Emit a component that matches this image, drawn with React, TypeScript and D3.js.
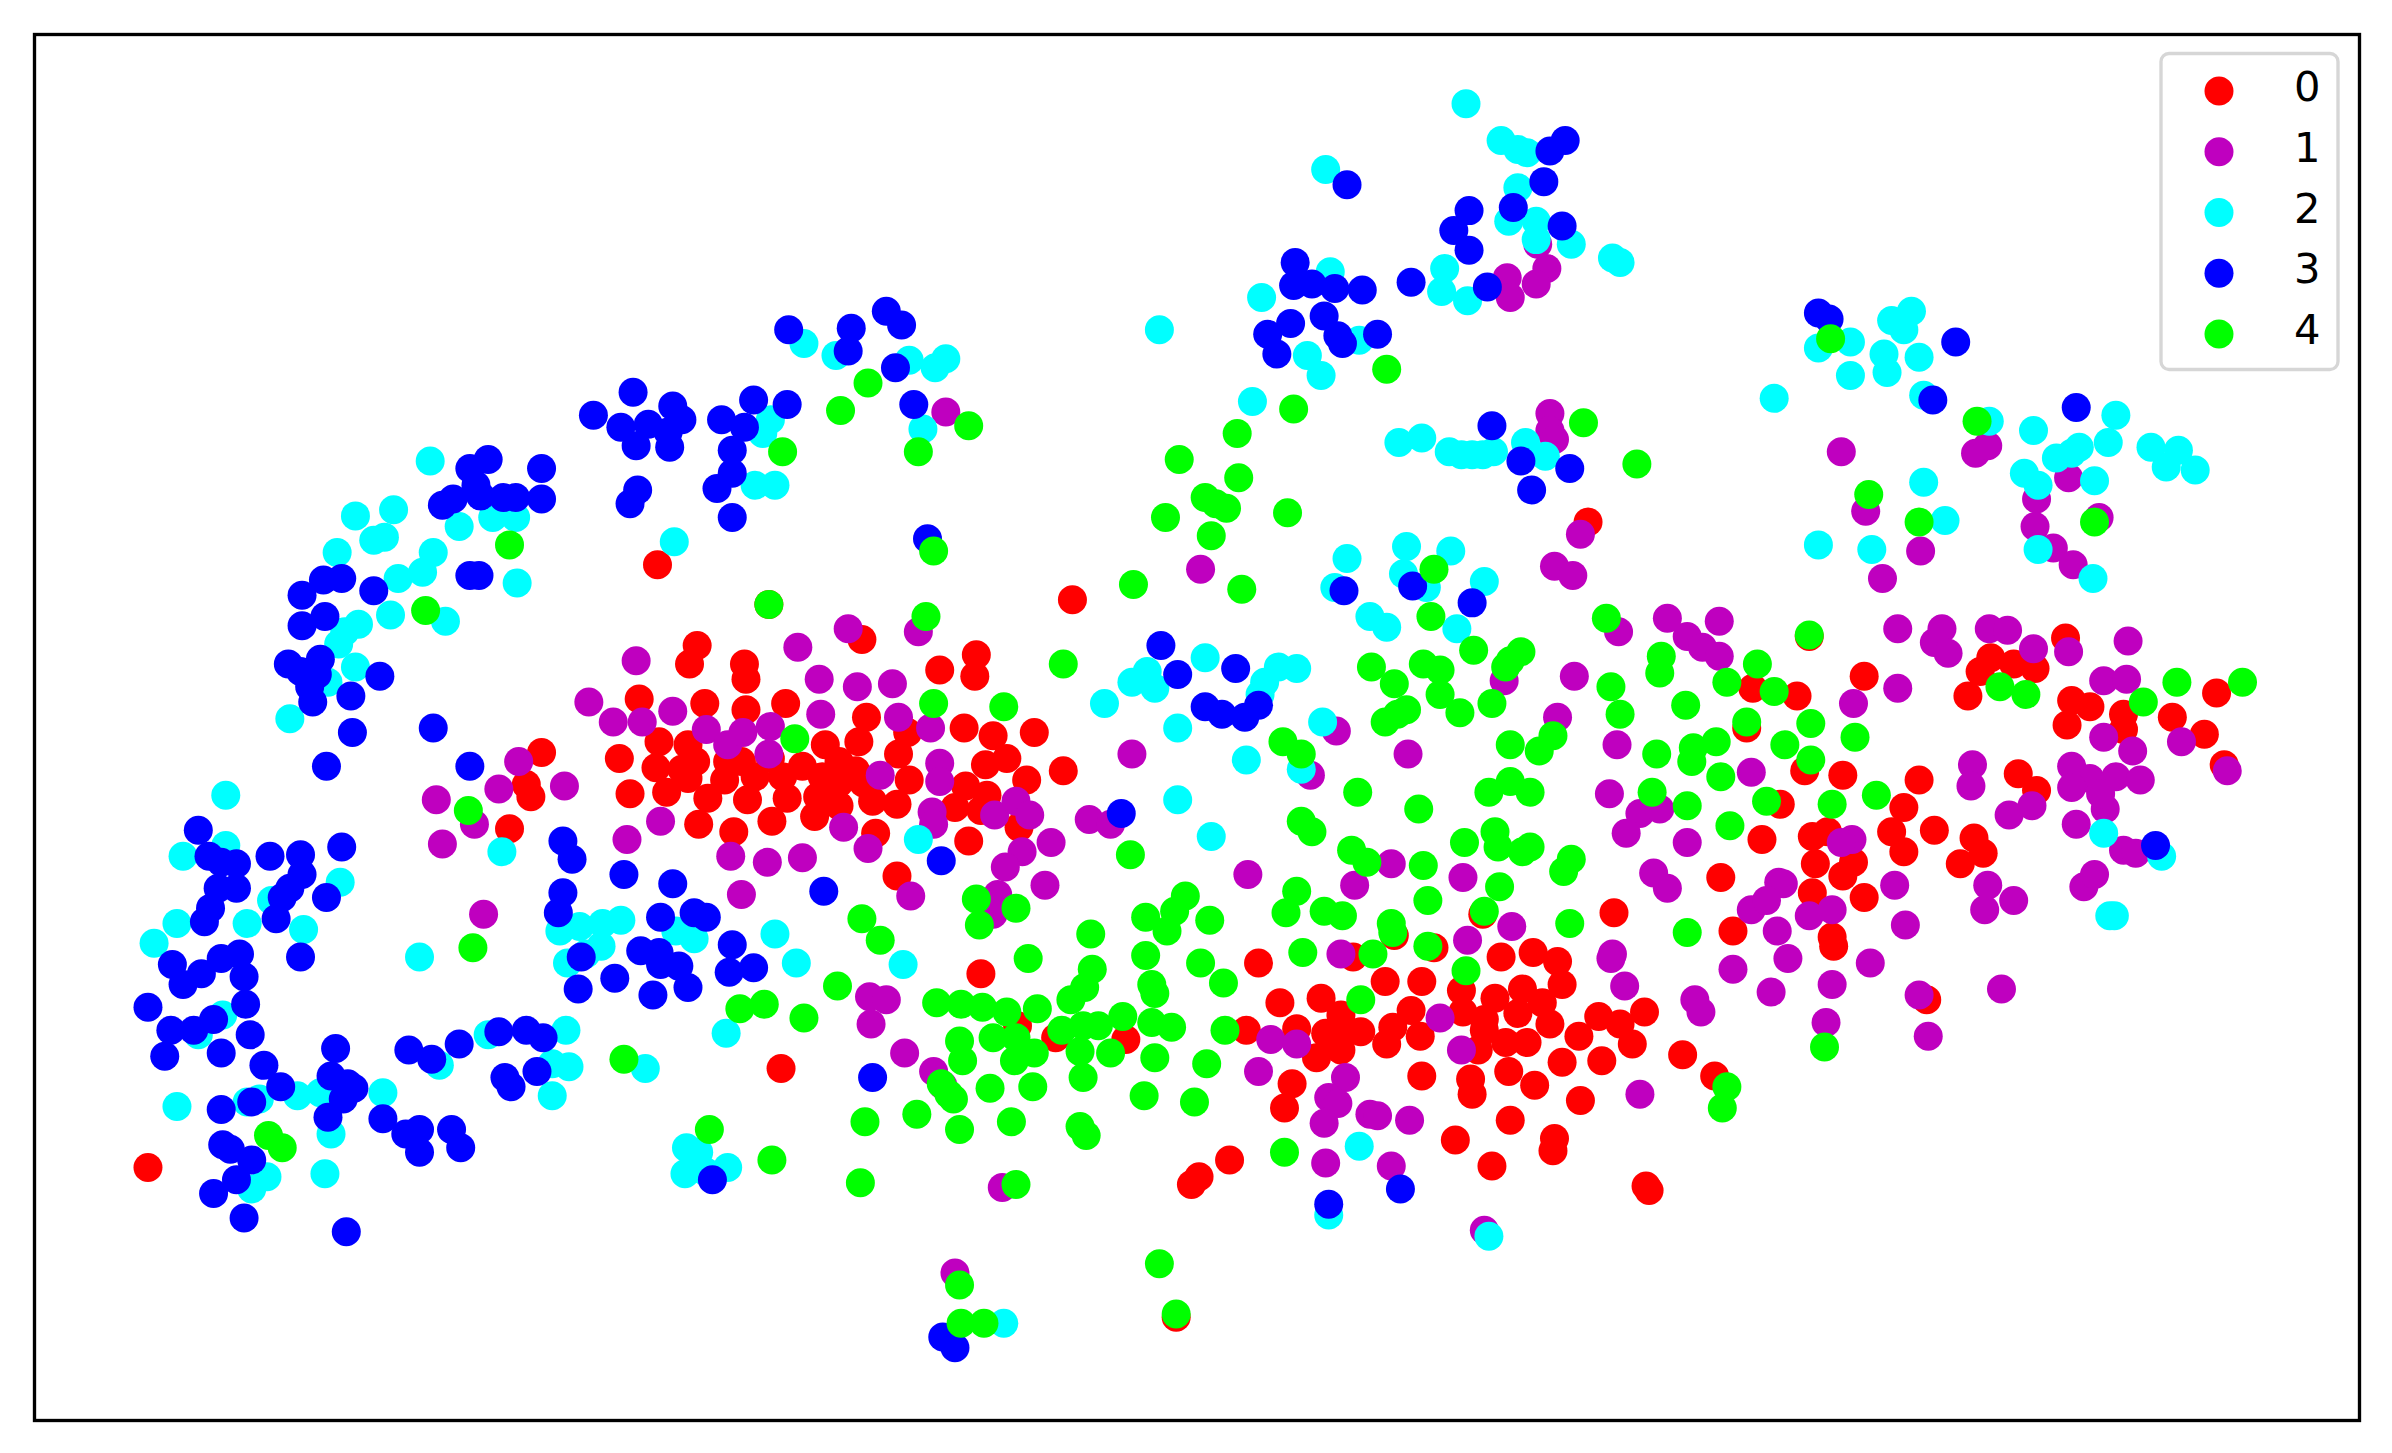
import React from "react";
import * as d3 from "d3";

const labels = ["0", "1", "2", "3", "4"];
const colors = ["#ff0000", "#bf00bf", "#00ffff", "#0000ff", "#00ff00"];

const class0: number[][] = [[504,396],[703,393],[565,419],[457,423],[452,435],[488,435],[489,445],[640,429],[616,439],[639,443],[419,458],[462,461],[489,465],[515,461],[568,470],[632,477],[651,482],[678,480],[432,486],[451,488],[541,488],[563,486],[589,494],[595,480],[406,497],[646,501],[660,497],[697,505],[430,503],[456,499],[447,504],[451,510],[477,499],[486,499],[475,511],[495,509],[505,497],[513,509],[526,502],[539,509],[550,499],[561,505],[550,513],[536,522],[540,520],[550,528],[534,535],[566,513],[572,525],[588,527],[596,511],[633,515],[647,521],[673,511],[626,529],[643,531],[668,542],[635,551],[413,520],[437,519],[464,523],[490,524],[516,523],[458,540],[481,545],[506,538],[574,546],[588,574],
[825,631],[887,627],[914,613],[940,621],[972,599],[1058,598],[1128,575],[1136,610],[984,627],[1005,624],[1021,630],[1024,645],[908,643],[932,643],[958,649],[980,654],[998,648],[1011,657],[839,657],[866,654],[879,665],[817,675],[850,674],[869,677],[879,680],[892,676],[863,693],[879,688],[874,682],[913,673],[925,662],[931,679],[909,684],[959,663],[973,668],[973,675],[969,688],[995,664],[1016,671],[987,683],[1001,683],[1035,679],[1048,666],[1062,671],[1078,663],[1070,684],[1024,696],[1050,695],[1103,691],[1124,705],[989,702],[1006,711],[964,707],[965,717],[932,705],[847,710],[842,726],[1036,721],[990,734],[954,747],[1019,746],[1018,754],[978,764],[1079,777],[1081,780],[806,760],[786,771],[781,776],
[431,370],[97,765],[512,700],[355,493],[345,514],[348,522],[334,543],[1041,342],[643,638],[692,680],[738,681],[667,672],[771,863],
[1149,451],[1178,456],[1222,443],[1145,477],[1183,505],[1208,508],[1258,511],[1155,550],[1167,527],[1188,548],[1198,545],[1248,529],[1240,545],[1268,544],[1248,558],[1190,566],[1215,565],[1208,574],[1188,585],[1222,588],[1285,566],[1294,549],[1300,559],[1202,620],[1201,614],[1263,655],[1290,456],[1298,440],[1305,431],[1320,435],[1334,438],[1354,418],[1358,459],[1370,463],[1355,475],[1392,468],[1392,478],[1424,470],[1453,454],[1445,481],[1458,501],[1323,507],[1335,518],[1186,417]];

const class1: number[][] = [[417,433],[386,460],[402,473],[421,473],[441,466],[463,478],[477,488],[487,480],[505,476],[504,494],[523,424],[537,445],[538,468],[562,450],[585,448],[589,470],[610,477],[556,412],[602,414],[616,500],[616,512],[577,508],[611,532],[612,540],[652,534],[666,525],[675,534],[714,537],[728,540],[370,515],[433,538],[411,550],[553,542],[569,556],[479,561],[503,565],[526,562],[486,586],[597,587],[689,552],[670,558],[659,568],[685,580],[654,586],[651,599],
[286,524],[290,553],[311,540],[327,517],[340,499],[317,599],[742,494],[620,270],[787,373],[876,479],[859,508],[923,494],
[818,573],[888,580],[912,566],[959,575],[991,607],[962,616],[879,625],[958,688],[944,667],[833,681],[850,684],[825,702],[882,706],[871,719],[877,723],[868,736],[898,730],[903,731],[924,734],[869,762],[912,764],[1057,625],[1056,628],[1065,646],[1084,572],[1093,582],[1148,596],[1136,635],[1111,655],[1115,663],[1075,717],
[973,806],[626,834],[657,778],[570,653],[581,655],[571,671],[593,690],[612,702],[618,711],
[1008,160],[1014,176],[988,182],[990,195],[1007,186],[1016,271],[1016,282],[1019,288],[1036,350],[1019,371],[1031,377],[1207,296],[1223,335],[1234,379],[1259,361],[1295,297],[1303,292],[1335,327],[1334,345],[1346,359],[1359,370],[1356,313],[1376,339],[1061,414],[1032,443],[986,446],[1021,470],[1060,488],[1055,520],[1075,533],[1066,546],[1088,530],[1106,552],[1093,405],[1106,417],[1116,424],[1127,407],[1127,430],[1148,506],[1166,578],[1169,579],[1158,590],[1165,610],[1186,600],[1201,596],[1214,550],[1207,552],[1215,461],[1244,451],[1244,412],[1268,421],[1273,412],[1277,428],[1304,412],[1316,413],[1333,425],[1356,427],[1395,420],[1379,446],[1394,445],[1379,483],[1398,492],[1387,509],[1403,511],[1430,486],[1460,505],[1358,502],[1370,510],[1380,530],[1361,540],[1358,516],[1293,501],[1292,515],[1317,534],[1332,528],[1303,580],[1301,596],[1320,590],[1312,648],[1264,679],[1258,652],[1249,606],[1242,580],[1226,631],[1197,670],[1201,645],[1172,628],[1161,650],[1366,581],[1373,573],[1392,557],[1400,559],[1377,520]];

const class2: number[][] = [[148,521],[120,561],[148,554],[101,618],[116,605],[146,665],[130,678],[116,725],[162,605],[178,590],[223,578],[199,609],[275,627],[162,722],[170,720],[195,718],[210,716],[251,716],[217,743],[175,771],[165,779],[213,769],[288,698],[320,678],[371,675],[362,718],[373,699],[362,697],[329,558],[423,700],[476,677],[508,612],[522,631],[592,632],[450,752],[449,769],[463,768],[477,765],[458,755],[367,610],[380,607],[395,605],[407,603],[372,631],[384,625],[394,620],[443,610],[455,615],[602,550],[794,548],[772,524],[853,504],[817,498],[867,473],[772,477],[724,461],[742,447],[752,440],[757,451],[790,431],[829,447],[838,437],[850,438],[826,455],[891,751],[871,796],[976,810],[658,867],[1379,546],[1417,561],[1383,600],[1386,600],[961,68],[984,92],[995,98],[1001,100],[995,123],[989,145],[1007,145],[1007,157],[1030,160],[1057,169],[1062,172],[869,111],[760,216],[827,195],[872,178],[947,176],[945,191],[962,197],[857,233],[866,246],[891,223],[821,263],[917,290],[932,287],[950,296],[958,298],[965,298],[972,298],[979,296],[1000,290],[1013,299],[1163,261],[1192,228],[1213,224],[1240,210],[1253,204],[1248,216],[1235,232],[1237,244],[1213,246],[1258,234],[1261,259],[1261,316],[1227,360],[1192,357],[1275,341],[1304,276],[1333,282],[1327,310],[1336,318],[1348,300],[1358,297],[1363,293],[1373,315],[1382,290],[1387,272],[1410,293],[1420,306],[1428,295],[1439,308],[1336,360],[1372,379],[883,366],[875,385],[922,358],[951,361],[920,376],[973,381],[935,385],[955,412],[898,404],[909,411],[442,355],[527,225],[548,233],[596,236],[613,241],[620,235],[605,281],[495,318],[508,318],[500,284],[505,275],[282,302],[233,338],[258,334],[221,362],[245,354],[252,352],[284,362],[277,375],[261,379],[256,403],[235,409],[226,414],[222,422],[233,437],[190,471],[215,447],[292,407],[339,382],[323,339],[338,339],[301,345]];

const class3: number[][] = [[130,544],[137,561],[145,565],[155,566],[155,582],[143,582],[138,595],[134,604],[177,561],[197,560],[224,555],[198,573],[190,582],[185,588],[181,602],[214,588],[197,627],[113,632],[120,645],[145,628],[157,625],[160,640],[132,638],[97,660],[112,675],[127,675],[140,668],[161,658],[164,678],[108,692],[145,690],[173,698],[184,712],[145,727],[165,722],[146,750],[151,753],[165,760],[155,773],[140,782],[160,798],[227,807],[220,687],[217,705],[228,710],[232,713],[225,720],[215,732],[251,733],[268,688],[283,694],[301,684],[327,676],[345,675],[356,680],[331,706],[335,712],[352,702],[266,743],[275,740],[275,755],[296,740],[302,752],[369,551],[375,563],[369,585],[366,598],[409,573],[441,579],[433,601],[455,598],[463,601],[381,627],[379,648],[403,641],[420,623],[432,624],[433,632],[428,652],[445,633],[451,647],[480,619],[478,637],[494,634],[540,584],[617,564],[572,706],[735,533],[467,773],[214,502],[231,480],[284,477],[308,502],[205,460],[203,450],[189,435],[197,440],[210,432],[208,442],[249,443],[230,456],[198,390],[198,410],[213,404],[212,380],[224,379],[245,387],[308,377],[314,377],[290,331],[297,327],[308,307],[320,301],[312,318],[315,325],[330,326],[338,326],[355,307],[355,327],[389,272],[407,280],[415,257],[425,278],[417,292],[438,283],[441,266],[439,293],[413,330],[418,321],[447,275],[473,275],[488,280],[494,262],[516,265],[480,295],[480,310],[470,320],[480,339],[517,216],[556,230],[558,215],[581,204],[591,213],[587,241],[599,265],[608,353],[883,121],[1026,92],[1016,99],[1012,119],[992,136],[963,138],[953,151],[963,164],[1024,148],[975,188],[925,185],[849,172],[848,187],[860,186],[875,189],[893,190],[868,207],[903,219],[877,220],[846,212],[831,219],[837,232],[880,225],[1192,205],[1199,209],[1282,224],[1267,262],[1361,267],[978,279],[997,302],[1029,307],[1004,321],[881,387],[926,384],[965,395],[761,423],[772,442],[810,438],[790,463],[801,468],[816,470],[825,462],[1413,554],[871,789],[918,779],[618,876],[626,883]];

const class4: number[][] = [[504,396],[513,296],[551,269],[569,251],[602,296],[635,279],[612,361],[607,404],[612,461],[658,463],[521,484],[697,435],[743,383],[764,339],[794,351],[790,326],[797,330],[804,333],[812,313],[811,284],[773,301],[848,268],[844,336],[814,386],[909,242],[1038,277],[1073,304],[1200,222],[1296,276],[1225,324],[1258,342],[1373,342],[938,404],[940,373],[1053,405],[1186,416],[966,426],[997,427],[990,433],[987,437],[899,437],[914,448],[933,435],[944,439],[944,455],[922,465],[916,468],[908,473],[957,467],[978,461],[1056,450],[1089,430],[1088,441],[1062,468],[1105,462],[1132,447],[1152,435],[1163,453],[1145,473],[1170,488],[1187,474],[1216,483],[1187,498],[1125,486],[1110,490],[1109,499],[1086,494],[1128,509],[1083,519],[1106,528],[1134,541],[1158,525],[1201,527],[1230,521],[1311,450],[1328,455],[1405,460],[1427,447],[1470,447],[1196,686],[1132,712],[1129,726],[841,486],[853,494],[890,519],[930,530],[976,519],[990,512],[1003,519],[990,488],[1009,492],[1018,482],[853,538],[860,545],[886,557],[896,565],[960,552],[980,545],[982,555],[998,558],[1003,555],[933,567],[741,560],[1030,563],[1025,571],[983,581],[1029,605],[1106,611],[850,584],[843,598],[868,597],[880,600],[936,590],[912,605],[913,611],[854,624],[900,625],[936,620],[973,597],[961,636],[892,655],[777,587],[770,597],[765,610],[751,601],[793,603],[715,612],[674,628],[716,635],[751,626],[787,631],[755,645],[757,651],[802,644],[711,647],[702,655],[736,666],[768,673],[755,670],[720,672],[710,672],[696,675],[708,689],[728,690],[757,693],[791,697],[803,675],[710,706],[750,718],[783,722],[708,738],[712,744],[663,735],[677,712],[649,713],[625,720],[601,730],[567,735],[629,740],[842,755],[666,776],[564,775],[506,760],[465,740],[409,694],[485,661],[501,658],[527,667],[549,646],[565,602],[577,616],[640,589],[642,606],[666,595],[614,657],[630,658],[644,660],[660,663],[680,661],[651,680],[629,682],[666,680],[678,690],[631,695],[665,695],[617,710],[622,717],[760,828],[771,861],[629,842],[630,867],[645,867],[176,744],[185,752],[310,621],[307,531],[279,400],[334,357]];

const series = [class0, class1, class2, class3, class4];

const W = 2392;
const H = 1453;
const x = d3.scaleLinear().domain([0, 1568]).range([0, W]);
const y = d3.scaleLinear().domain([0, 952]).range([0, H]);
const R = 14.5;
const legendY = d3.scaleLinear().domain([0, 4]).range([91, 334]);

export default function App() {
  return (
    <svg
      width={W}
      height={H}
      viewBox={`0 0 ${W} ${H}`}
      style={{ position: "absolute", left: 0, top: 0, display: "block", background: "#fff" }}
    >
      {series.map((pts, i) => (
        <g key={labels[i]} fill={colors[i]}>
          {pts.map((p, j) => (
            <circle key={j} cx={x(p[0])} cy={y(p[1])} r={R} />
          ))}
        </g>
      ))}
      <rect x={34.5} y={34.5} width={2325} height={1386} fill="none" stroke="#000" strokeWidth={3.33} />
      <rect x={2161} y={53.5} width={177} height={316} rx={8} fill="#fff" fillOpacity={0.8} stroke="#d6d6d6" strokeWidth={3.33} />
      {labels.map((l, i) => (
        <g key={l}>
          <circle cx={2219} cy={legendY(i)} r={R} fill={colors[i]} />
          <text
            x={2294}
            y={legendY(i) + 10}
            fontFamily="DejaVu Sans"
            fontSize={41.67}
            fill="#000"
          >
            {l}
          </text>
        </g>
      ))}
    </svg>
  );
}
